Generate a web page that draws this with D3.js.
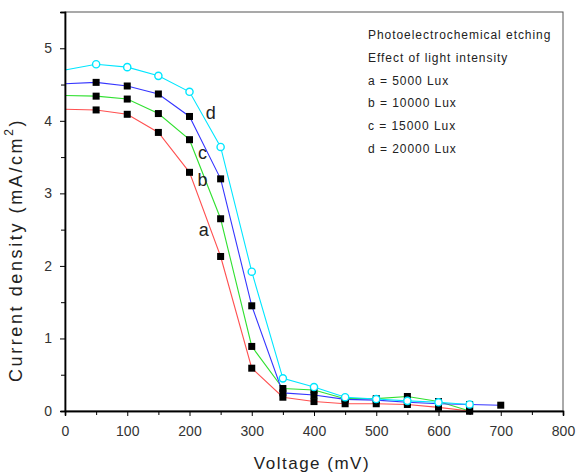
<!DOCTYPE html>
<html>
<head>
<meta charset="utf-8">
<script src="https://cdn.jsdelivr.net/npm/d3@7"></script>
<style>
  html, body { margin: 0; padding: 0; background: #fff; }
  svg { display: block; font-family: "Liberation Sans", Arial, sans-serif; }
</style>
</head>
<body>
<svg id="chart" width="576" height="472"></svg>
<script>
// Voltage sweep (mV)
const voltage = [0, 50, 100, 150, 200, 250, 300, 350, 400, 450, 500, 550, 600, 650, 700];

// Current density (mA/cm^2) for each light intensity
const seriesA = [4.16, 4.15, 4.09, 3.84, 3.29, 2.13, 0.59, 0.19, 0.13, 0.10, 0.10, 0.09, 0.05, 0.00];
const seriesB = [4.35, 4.34, 4.30, 4.10, 3.74, 2.65, 0.89, 0.31, 0.29, 0.17, 0.17, 0.20, 0.13, 0.00];
const seriesC = [4.51, 4.53, 4.48, 4.37, 4.06, 3.20, 1.45, 0.25, 0.22, 0.16, 0.15, 0.12, 0.10, 0.09, 0.08];
const seriesD = [4.70, 4.78, 4.74, 4.62, 4.40, 3.64, 1.92, 0.45, 0.33, 0.19, 0.165, 0.14, 0.12, 0.09];

const seriesNames = ["a", "b", "c", "d"];
const seriesColors = ["#ff5050", "#30e030", "#3535ff", "#00e6ff"];
const labelPos = [[223, 2.50], [221, 3.18], [221, 3.55], [234, 4.11]];

const legendLines = [
  "Photoelectrochemical etching",
  "Effect of light intensity",
  "a = 5000 Lux",
  "b = 10000 Lux",
  "c = 15000 Lux",
  "d = 20000 Lux"
];

const xTicks = [0, 100, 200, 300, 400, 500, 600, 700, 800];
const yTicks = [0, 1, 2, 3, 4, 5];

const svg = d3.select("#chart");
const plotLeft = 65, plotRight = 563, plotTop = 12, plotBottom = 411;

const x = d3.scaleLinear().domain([0, 800]).range([plotLeft, plotRight]);
const y = d3.scaleLinear().domain([0, 5.5]).range([plotBottom, plotTop]);

// frame
svg.append("rect")
  .attr("x", plotLeft).attr("y", plotTop)
  .attr("width", plotRight - plotLeft).attr("height", plotBottom - plotTop)
  .attr("fill", "none").attr("stroke", "#555").attr("stroke-width", 1);

// lines
const allSeries = [seriesA, seriesB, seriesC, seriesD];
const line = d3.line()
  .x(d => x(d[0])).y(d => y(d[1]))
  .curve(d3.curveLinear);

allSeries.forEach((vals, i) => {
  const pts = vals.map((v, j) => [voltage[j], v]);
  svg.append("path")
    .datum(pts)
    .attr("d", line)
    .attr("fill", "none")
    .attr("stroke", seriesColors[i])
    .attr("stroke-width", 1.1);
});

// markers (first point at 0 mV carries no symbol)
allSeries.forEach((vals, i) => {
  const pts = vals.map((v, j) => [voltage[j], v]).slice(1);
  if (i < 3) {
    svg.append("g").selectAll("rect").data(pts).join("rect")
      .attr("x", d => x(d[0]) - 3.5).attr("y", d => y(d[1]) - 3.5)
      .attr("width", 7).attr("height", 7)
      .attr("fill", "#000");
  } else {
    svg.append("g").selectAll("circle").data(pts).join("circle")
      .attr("cx", d => x(d[0])).attr("cy", d => y(d[1]))
      .attr("r", 3.6)
      .attr("fill", "#fff")
      .attr("stroke", seriesColors[i])
      .attr("stroke-width", 1.4);
  }
});

// axes
const xAxis = d3.axisBottom(x).tickValues(xTicks).tickSize(5).tickPadding(10);
const xMinor = d3.axisBottom(x).tickValues(d3.range(50, 800, 100)).tickSize(4).tickFormat("");
const yAxis = d3.axisLeft(y).tickValues(yTicks).tickSize(5).tickPadding(8).tickFormat(d3.format("d"));
const yMinor = d3.axisLeft(y).tickValues([0.5, 1.5, 2.5, 3.5, 4.5]).tickSize(4).tickFormat("");

function styleAxis(g) {
  g.select(".domain").attr("stroke", "#000").attr("stroke-width", 1.4);
  g.selectAll(".tick line").attr("stroke", "#000").attr("stroke-width", 1);
  g.selectAll(".tick text")
    .attr("fill", "#333")
    .style("font-size", "14px")
    .style("font-family", "'Liberation Sans', Arial, sans-serif");
}

svg.append("g").attr("transform", `translate(0,${plotBottom})`).call(xMinor).call(styleAxis);
svg.append("g").attr("transform", `translate(0,${plotBottom})`).call(xAxis).call(styleAxis);
svg.append("g").attr("transform", `translate(${plotLeft},0)`).call(yMinor).call(styleAxis);
svg.append("g").attr("transform", `translate(${plotLeft},0)`).call(yAxis).call(styleAxis);

// curve labels
seriesNames.forEach((n, i) => {
  svg.append("text")
    .attr("x", x(labelPos[i][0])).attr("y", y(labelPos[i][1]))
    .attr("text-anchor", "middle")
    .attr("dominant-baseline", "central")
    .style("font-size", "18px")
    .attr("fill", "#222")
    .text(n);
});

// legend text
svg.append("g").selectAll("text").data(legendLines).join("text")
  .attr("x", 368)
  .attr("y", (d, i) => 35 + i * 22.8)
  .attr("dominant-baseline", "central")
  .style("font-size", "12px")
  .style("letter-spacing", "0.95px")
  .attr("fill", "#222")
  .text(d => d);

// axis titles
svg.append("text")
  .attr("x", 312).attr("y", 463)
  .attr("text-anchor", "middle")
  .attr("dominant-baseline", "central")
  .style("font-size", "17px")
  .style("letter-spacing", "1.5px")
  .attr("fill", "#222")
  .text("Voltage (mV)");

const yTitle = svg.append("text")
  .attr("transform", "translate(16,250) rotate(-90)")
  .attr("text-anchor", "middle")
  .attr("dominant-baseline", "central")
  .style("font-size", "18px")
  .style("letter-spacing", "2.6px")
  .attr("fill", "#222");
yTitle.append("tspan").text("Current density (mA/cm");
yTitle.append("tspan").attr("dy", "-7").style("font-size", "12px").text("2");
yTitle.append("tspan").attr("dy", "7").text(")");
</script>
</body>
</html>
